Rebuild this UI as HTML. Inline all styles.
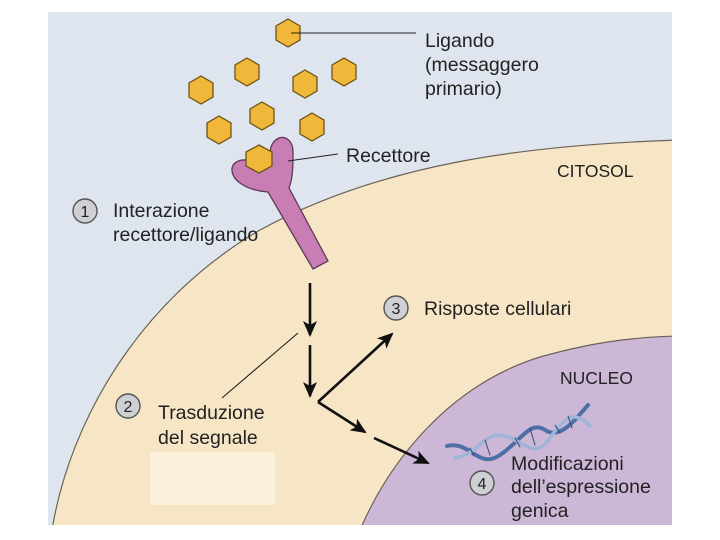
<!DOCTYPE html>
<html><head><meta charset="utf-8"><style>
html,body{margin:0;padding:0;background:#fff;width:720px;height:540px;overflow:hidden}
text{font-family:"Liberation Sans",sans-serif;fill:#222}
</style></head><body>
<svg width="720" height="540" viewBox="0 0 720 540" xmlns="http://www.w3.org/2000/svg">
<defs>
<marker id="ah" markerWidth="16" markerHeight="14" refX="14" refY="7" orient="auto" markerUnits="userSpaceOnUse">
<path d="M0,0 L16,7 L0,14 L4,7 Z" fill="#111"/></marker>
<clipPath id="fr"><rect x="48" y="12" width="624" height="513"/></clipPath>
</defs>
<rect x="48" y="12" width="624" height="513" fill="#dfe5ee"/>
<g clip-path="url(#fr)">
<path d="M52,530 C70,420 140,300 260,230 C380,165 520,145 680,140 L680,530 Z" fill="#f6e6c6" stroke="#6b6258" stroke-width="1.2"/>
<path d="M360,530 C390,460 450,385 540,357 C590,343 630,337 680,336 L680,530 Z" fill="#cdb7d6" stroke="#6b6258" stroke-width="1.2"/>
</g>
<rect x="150" y="452" width="125" height="53" fill="#fbf0dc"/>
<!-- hexagons -->
<g fill="#f1b73a" stroke="#6b5417" stroke-width="1.3">
<polygon points="288,19 300,26 300,40 288,47 276,40 276,26"/>
<polygon points="201,76 213,83 213,97 201,104 189,97 189,83"/>
<polygon points="247,58 259,65 259,79 247,86 235,79 235,65"/>
<polygon points="305,70 317,77 317,91 305,98 293,91 293,77"/>
<polygon points="344,58 356,65 356,79 344,86 332,79 332,65"/>
<polygon points="219,116 231,123 231,137 219,144 207,137 207,123"/>
<polygon points="262,102 274,109 274,123 262,130 250,123 250,109"/>
<polygon points="312,113 324,120 324,134 312,141 300,134 300,120"/>
</g>
<!-- receptor -->
<path d="M313,269 L328,261 L289,188 C293,178 293,165 293,152 C293,140 285,136 279,138 C272,141 270,148 270,155 L252,162 C244,158 234,160 232,168 C231,180 245,190 268,192 Z" fill="#c97db5" stroke="#5e3a55" stroke-width="1.3"/>
<polygon points="259,145 272,152 272,166 259,173 246,166 246,152" fill="#f1b73a" stroke="#6b5417" stroke-width="1.3"/>
<!-- leader lines -->
<g stroke="#222" stroke-width="1.1">
<line x1="291" y1="33" x2="416" y2="33"/>
<line x1="288" y1="161" x2="338" y2="154"/>
<line x1="298" y1="333" x2="222" y2="398"/>
</g>
<!-- arrows -->
<g stroke="#111" stroke-width="2.6" fill="none" marker-end="url(#ah)">
<line x1="310" y1="283" x2="310" y2="335"/>
<line x1="310" y1="345" x2="310" y2="396"/>
<line x1="318" y1="402" x2="392" y2="334"/>
<line x1="318" y1="402" x2="365" y2="432"/>
<line x1="374" y1="438" x2="428" y2="463"/>
</g>
<!-- DNA -->
<g fill="none" stroke-linecap="round">
<path d="M447,446 C470,440 478,470 500,455 S530,420 545,430 S575,420 588,405" stroke="#4e6ea6" stroke-width="4"/>
<path d="M455,458 C478,455 485,430 505,436 S535,460 550,438 S575,410 590,426" stroke="#9fb4d6" stroke-width="3.5"/>
<g stroke="#2f4b7a" stroke-width="1">
<line x1="470" y1="448" x2="474" y2="456"/><line x1="485" y1="440" x2="490" y2="455"/>
<line x1="515" y1="438" x2="520" y2="447"/><line x1="530" y1="428" x2="535" y2="445"/>
<line x1="555" y1="425" x2="560" y2="433"/><line x1="568" y1="416" x2="572" y2="428"/>
</g>
</g>
<!-- badges -->
<g fill="#cfd0d4" stroke="#555" stroke-width="1.4">
<circle cx="85" cy="211" r="12"/><circle cx="128" cy="406" r="12"/>
<circle cx="396" cy="308" r="12"/><circle cx="482" cy="483" r="12"/>
</g>
<g font-size="16" text-anchor="middle">
<text x="85" y="217">1</text><text x="128" y="412">2</text>
<text x="396" y="314">3</text><text x="482" y="489">4</text>
</g>
<g font-size="19.5">
<text x="425" y="47">Ligando</text>
<text x="425" y="71">(messaggero</text>
<text x="425" y="95">primario)</text>
<text x="346" y="162">Recettore</text>
<text x="113" y="217">Interazione</text>
<text x="113" y="241">recettore/ligando</text>
<text x="424" y="315">Risposte cellulari</text>
<text x="158" y="419">Trasduzione</text>
<text x="158" y="444">del segnale</text>
<text x="511" y="470">Modificazioni</text>
<text x="511" y="493">dell’espressione</text>
<text x="511" y="517">genica</text>
</g>
<g font-size="17.5">
<text x="557" y="177">CITOSOL</text>
<text x="560" y="384">NUCLEO</text>
</g>
</svg>
</body></html>
